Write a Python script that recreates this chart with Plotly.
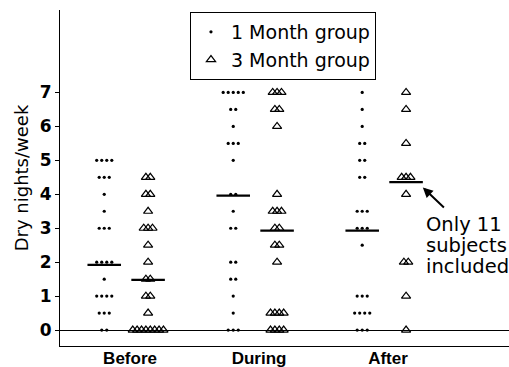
import plotly.graph_objects as go
from collections import Counter

# ---- data (dry nights per week) ----
phases = ["Before", "During", "After"]

before_1m = [5, 5, 5, 5, 4.5, 4.5, 4.5, 4, 3.5, 3, 3, 3, 2, 2, 2, 2, 1.5,
             1, 1, 1, 1, 0.5, 0.5, 0.5, 0, 0]
before_3m = [4.5, 4.5, 4, 4, 3.5, 3, 3, 3, 2.5, 2, 1.5, 1.5, 1, 1, 0.5,
             0, 0, 0, 0, 0, 0, 0, 0]
during_1m = [7, 7, 7, 7, 7, 6.5, 6.5, 6, 5.5, 5.5, 5.5, 5, 4, 4, 3.5, 3, 3,
             2, 2, 1.5, 1.5, 1, 0.5, 0, 0, 0]
during_3m = [7, 7, 7, 6.5, 6.5, 6, 4, 3.5, 3.5, 3.5, 3, 3, 2.5, 2.5, 2,
             0.5, 0.5, 0.5, 0.5, 0, 0, 0, 0]
after_1m = [7, 6.5, 6, 5.5, 5.5, 5, 5, 4.5, 4.5, 3.5, 3.5, 3.5, 3, 3, 3, 2.5,
            1, 1, 1, 0.5, 0.5, 0.5, 0.5, 0, 0, 0]
after_3m = [7, 6.5, 5.5, 4.5, 4.5, 4.5, 4, 2, 2, 1, 0]

median_1m = [1.92, 3.96, 2.93]
median_3m = [1.48, 2.93, 4.36]

y_ticks = [0, 1, 2, 3, 4, 5, 6, 7]

# ---- layout helpers ----
DOT_OFF, TRI_OFF = -0.2, 0.14
DOT_STEP, TRI_STEP = 0.039, 0.034
MED_HALF = 0.13


def spread(values, center, step):
    xs, ys = [], []
    counts = Counter(values)
    for v, n in counts.items():
        for k in range(n):
            xs.append(center + (k - (n - 1) / 2) * step)
            ys.append(v)
    return xs, ys


groups_1m = [before_1m, during_1m, after_1m]
groups_3m = [before_3m, during_3m, after_3m]

dx, dy, tx, ty = [], [], [], []
for i in range(3):
    a, b = spread(groups_1m[i], i + DOT_OFF, DOT_STEP)
    dx += a; dy += b
    a, b = spread(groups_3m[i], i + TRI_OFF, TRI_STEP)
    tx += a; ty += b

mx, my = [], []
for i in range(3):
    for off, med in ((DOT_OFF, median_1m[i]), (TRI_OFF, median_3m[i])):
        mx += [i + off - MED_HALF, i + off + MED_HALF, None]
        my += [med, med, None]

fig = go.Figure()
fig.add_trace(go.Scatter(
    x=mx, y=my, mode="lines", line=dict(color="black", width=2.2),
    showlegend=False, hoverinfo="skip"))
fig.add_trace(go.Scatter(
    x=dx, y=dy, mode="markers", name="1 Month group",
    marker=dict(symbol="circle", size=3.2, color="black")))
fig.add_trace(go.Scatter(
    x=tx, y=ty, mode="markers", name="3 Month group",
    marker=dict(symbol="triangle-up-open", size=8, color="black",
                line=dict(width=1.2, color="black"))))

ann_font = dict(family="DejaVu Sans", size=19.5, color="black")
annotations = [
    dict(x=2.28, y=3.10, xref="x", yref="y", text="Only 11", showarrow=False,
         xanchor="left", yanchor="middle", font=ann_font),
    dict(x=2.28, y=2.48, xref="x", yref="y", text="subjects", showarrow=False,
         xanchor="left", yanchor="middle", font=ann_font),
    dict(x=2.28, y=1.86, xref="x", yref="y", text="included", showarrow=False,
         xanchor="left", yanchor="middle", font=ann_font),
    dict(x=2.27, y=4.2, xref="x", yref="y", ax=2.445, ay=3.57,
         axref="x", ayref="y", text="", showarrow=True, arrowhead=2,
         arrowsize=1, arrowwidth=2, arrowcolor="black"),
]

fig.update_layout(
    width=509, height=367,
    margin=dict(l=60, r=0, t=10, b=21, pad=0),
    paper_bgcolor="white", plot_bgcolor="white",
    showlegend=True,
    legend=dict(
        x=0.2895, y=0.994, xanchor="left", yanchor="top",
        bordercolor="black", borderwidth=1, bgcolor="white",
        font=dict(family="DejaVu Sans", size=19, color="black"),
        itemsizing="trace", tracegroupgap=0,
    ),
    annotations=annotations,
    xaxis=dict(
        range=[-0.543, 2.938], tickmode="array", tickvals=[0, 1, 2],
        ticktext=phases, ticks="", ticklen=0, showgrid=False, zeroline=False,
        showline=True, linecolor="black", linewidth=1.2, automargin=False,
        ticklabelstandoff=-4,
        tickfont=dict(family="Liberation Sans", size=17, color="black",
                      weight="bold"),
    ),
    yaxis=dict(
        range=[-0.47, 9.43], tickmode="array", tickvals=y_ticks,
        ticks="outside", ticklen=4, tickcolor="black", showgrid=False,
        zeroline=True, zerolinecolor="black", zerolinewidth=1,
        showline=True, linecolor="black", linewidth=1.2, automargin=False,
        title=dict(text="Dry nights/week", standoff=6,
                   font=dict(family="DejaVu Sans", size=18, color="black")),
        tickfont=dict(family="DejaVu Sans", size=17, color="black",
                      weight="bold"),
    ),
)

fig.write_html(
    "out.html",
    config={"displayModeBar": False},
    post_script="document.body.style.margin='0';"
                "document.body.style.overflow='hidden';",
)
